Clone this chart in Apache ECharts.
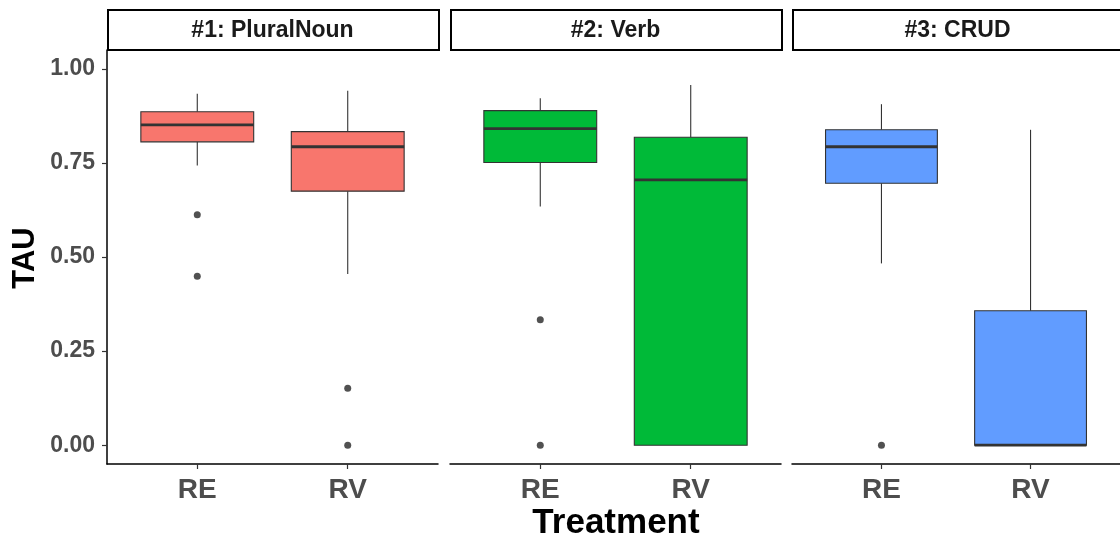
<!DOCTYPE html>
<html>
<head>
<meta charset="utf-8">
<script src="https://cdn.jsdelivr.net/npm/echarts@6/dist/echarts.min.js"></script>
<style>
html,body{margin:0;padding:0;background:#fff;}
#chart{width:1120px;height:541px;}
</style>
</head>
<body>
<div id="chart"></div>
<script>
// ---- data ----
const facets = ['#1: PluralNoun', '#2: Verb', '#3: CRUD'];
const treatments = ['RE', 'RV'];
const yTicks = [0, 0.25, 0.5, 0.75, 1.0];
// box stats per treatment: [lower whisker, Q1, median, Q3, upper whisker]
const pluralNounBox = [[0.743, 0.806, 0.851, 0.886, 0.934], [0.455, 0.675, 0.793, 0.833, 0.942]];
const verbBox       = [[0.634, 0.751, 0.841, 0.889, 0.922], [0.000, 0.000, 0.705, 0.818, 0.957]];
const crudBox       = [[0.483, 0.696, 0.793, 0.838, 0.906], [0.000, 0.000, 0.000, 0.357, 0.838]];
// outliers per treatment
const pluralNounOutliers = [[0.612, 0.449], [0.151, 0.000]];
const verbOutliers       = [[0.333, 0.000], []];
const crudOutliers       = [[0.000], []];
const fills = ['#F8766D', '#00BA38', '#619CFF'];

const boxes = [pluralNounBox, verbBox, crudBox];
const outliers = [pluralNounOutliers, verbOutliers, crudOutliers];

// ---- layout ----
const FONT = "'Liberation Sans', Arial, sans-serif";
const panelLeft = [107, 450, 792];
const panelW = 331;
const panelTop = 50, panelH = 414;

const grids = panelLeft.map(l => ({left: l, top: panelTop, width: panelW, height: panelH, containLabel: false}));

const xAxes = panelLeft.map((l, i) => ({
  type: 'value', gridIndex: i, min: 0.4, max: 2.6,
  splitLine: {show: false},
  axisLine: {show: true, onZero: false, lineStyle: {color: '#000', width: 1.5}},
  axisTick: {show: true, customValues: [1, 2], length: 5, lineStyle: {color: '#333', width: 1.2}},
  axisLabel: {show: true, customValues: [1, 2], formatter: v => treatments[Math.round(v) - 1],
    fontFamily: FONT, fontWeight: 'bold', fontSize: 28, color: '#4D4D4D', margin: 12}
}));

const yAxes = panelLeft.map((l, i) => ({
  type: 'value', gridIndex: i, min: -0.05, max: 1.05,
  splitLine: {show: false},
  axisLine: {show: i === 0, onZero: false, lineStyle: {color: '#000', width: 1.5}},
  axisTick: {show: i === 0, customValues: yTicks, length: 5, lineStyle: {color: '#333', width: 1.2}},
  axisLabel: {show: i === 0, customValues: yTicks, formatter: v => v.toFixed(2),
    fontFamily: FONT, fontWeight: 'bold', fontSize: 23, color: '#4D4D4D', margin: 12,
    padding: [4, 0, 0, 0]}
}));

function renderBox(params, api) {
  const x = api.value(0);
  const lo = api.coord([x, api.value(1)]);
  const q1 = api.coord([x, api.value(2)]);
  const md = api.coord([x, api.value(3)]);
  const q3 = api.coord([x, api.value(4)]);
  const hi = api.coord([x, api.value(5)]);
  const hw = api.size([0.75, 0])[0] / 2;
  const cx = lo[0];
  const fill = fills[params.seriesIndex];
  const lineSt = {stroke: '#333', lineWidth: 1.1};
  return {
    type: 'group',
    children: [
      {type: 'line', shape: {x1: cx, y1: q3[1], x2: cx, y2: hi[1]}, style: lineSt},
      {type: 'line', shape: {x1: cx, y1: q1[1], x2: cx, y2: lo[1]}, style: lineSt},
      {type: 'rect', shape: {x: cx - hw, y: q3[1], width: 2 * hw, height: q1[1] - q3[1]},
        style: {fill: fill, stroke: '#333', lineWidth: 1.1}},
      {type: 'line', shape: {x1: cx - hw, y1: md[1], x2: cx + hw, y2: md[1]},
        style: {stroke: '#333', lineWidth: 2.8}}
    ]
  };
}

const series = [];
boxes.forEach((b, i) => {
  series.push({
    type: 'custom', xAxisIndex: i, yAxisIndex: i,
    renderItem: renderBox,
    encode: {x: 0, y: [1, 2, 3, 4, 5]},
    data: b.map((s, k) => [k + 1].concat(s)),
    silent: true, clip: false
  });
});
outliers.forEach((o, i) => {
  const pts = [];
  o.forEach((vals, k) => vals.forEach(v => pts.push([k + 1, v])));
  series.push({
    type: 'scatter', xAxisIndex: i, yAxisIndex: i,
    symbol: 'circle', symbolSize: 7,
    itemStyle: {color: '#262626'},
    data: pts, silent: true
  });
});

const graphics = [];
panelLeft.forEach((l, i) => {
  graphics.push({
    type: 'rect', left: l, top: 9, z: 10,
    shape: {x: 0, y: 0, width: panelW, height: 40},
    style: {fill: '#fff', stroke: '#000', lineWidth: 2}
  });
  graphics.push({
    type: 'text', z: 11,
    x: l + panelW / 2, y: 31,
    style: {text: facets[i], fontFamily: FONT, fontWeight: 'bold', fontSize: 23,
      fill: '#1A1A1A', align: 'center', verticalAlign: 'middle'}
  });
});
graphics.push({
  type: 'text', x: 616, y: 523,
  style: {text: 'Treatment', fontFamily: FONT, fontWeight: 'bold', fontSize: 35,
    fill: '#000', align: 'center', verticalAlign: 'middle'}
});
graphics.push({
  type: 'text', x: 25, y: 258, rotation: Math.PI / 2,
  style: {text: 'TAU', fontFamily: FONT, fontWeight: 'bold', fontSize: 31,
    fill: '#000', align: 'center', verticalAlign: 'middle'}
});

const chart = echarts.init(document.getElementById('chart'), null, {renderer: 'canvas'});
chart.setOption({
  animation: false,
  backgroundColor: '#fff',
  grid: grids,
  xAxis: xAxes,
  yAxis: yAxes,
  series: series,
  graphic: graphics
});
</script>
</body>
</html>
